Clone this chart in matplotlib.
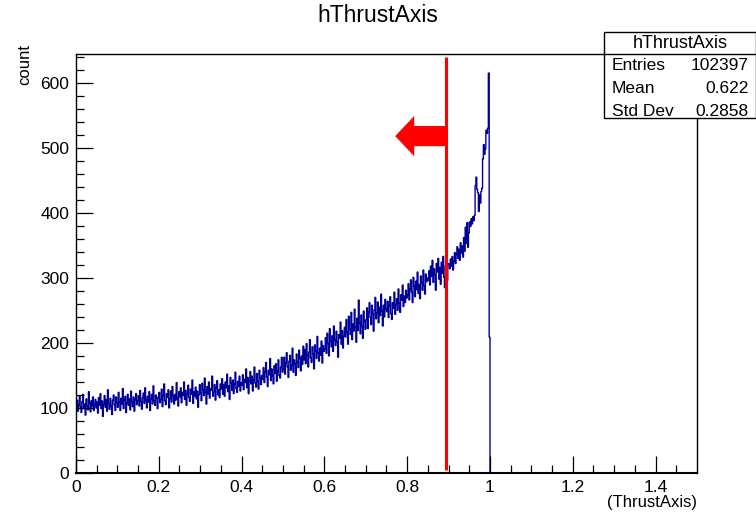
import numpy as np
import matplotlib.pyplot as plt
from matplotlib.patches import Rectangle
from matplotlib.lines import Line2D

plt.rcParams['font.family'] = ['Liberation Sans', 'DejaVu Sans']

# histogram binning: 750 bins over [0, 1.5], only [0, 1) is filled
n_bins = 750
x_lo, x_hi = 0.0, 1.5

# bin contents for [0, 1), 25 bins per row (0.05 wide each row)
counts_filled = [
    98, 112, 95, 104, 118, 101, 93, 110, 121, 99, 106, 89, 114, 103, 97, 125, 108, 94, 111, 102, 117, 96, 105, 113, 100,
    109, 92, 116, 104, 122, 99, 111, 87, 106, 119, 101, 113, 95, 128, 107, 98, 115, 103, 90, 112, 120, 105, 96, 117, 108,
    101, 124, 109, 96, 115, 106, 130, 99, 112, 118, 93, 108, 121, 104, 114, 97, 126, 110, 102, 117, 95, 113, 122, 105, 111,
    119, 103, 127, 110, 98, 116, 123, 107, 131, 112, 100, 118, 109, 125, 96, 114, 121, 106, 134, 111, 104, 120, 115, 99, 117,
    124, 108, 113, 129, 102, 119, 137, 111, 105, 122, 116, 128, 100, 114, 126, 109, 133, 118, 106, 121, 112, 139, 115, 103, 125,
    117, 131, 108, 124, 119, 140, 113, 127, 104, 122, 135, 116, 110, 129, 121, 143, 107, 125, 118, 132, 114, 126, 101, 120, 136,
    123, 111, 138, 128, 119, 146, 125, 106, 133, 121, 140, 115, 130, 127, 149, 118, 124, 136, 112, 131, 142, 120, 128, 116, 137,
    129, 145, 121, 136, 118, 140, 131, 152, 125, 134, 113, 147, 138, 127, 143, 122, 137, 155, 130, 124, 141, 133, 149, 126, 139,
    135, 151, 128, 144, 139, 160, 131, 147, 122, 142, 156, 137, 149, 126, 143, 163, 138, 132, 153, 141, 129, 158, 146, 136, 150,
    144, 162, 139, 155, 170, 147, 133, 158, 151, 176, 142, 160, 149, 137, 165, 153, 168, 141, 157, 174, 150, 146, 163, 178, 155,
    160, 178, 152, 169, 185, 163, 147, 172, 181, 158, 166, 192, 155, 174, 168, 150, 183, 171, 162, 189, 176, 157, 180, 167, 195,
    174, 190, 168, 199, 181, 163, 186, 205, 177, 170, 194, 183, 160, 197, 188, 176, 210, 185, 172, 192, 181, 203, 169, 196, 187,
    191, 208, 184, 215, 199, 180, 222, 203, 194, 211, 187, 226, 205, 196, 218, 201, 178, 213, 207, 232, 198, 219, 192, 210, 224,
    209, 236, 216, 198, 241, 222, 213, 247, 205, 229, 218, 252, 224, 201, 238, 219, 266, 231, 214, 243, 226, 207, 249, 233, 221,
    236, 254, 222, 247, 262, 239, 228, 258, 244, 218, 251, 270, 237, 246, 263, 231, 255, 242, 275, 249, 226, 258, 240, 267, 252,
    248, 264, 239, 257, 271, 245, 236, 262, 253, 278, 244, 259, 268, 250, 283, 261, 247, 274, 266, 289, 256, 272, 262, 281, 269,
    274, 291, 266, 283, 297, 278, 262, 301, 287, 271, 295, 282, 309, 276, 290, 268, 303, 293, 281, 312, 288, 275, 306, 294, 300,
    296, 311, 289, 318, 302, 327, 293, 314, 305, 281, 322, 309, 330, 298, 316, 290, 324, 307, 333, 301, 285, 319, 312, 296, 322,
    321, 314, 329, 318, 333, 312, 326, 339, 322, 336, 348, 330, 344, 327, 354, 338, 349, 332, 362, 341, 378, 353, 385, 347, 369,
    386, 379, 391, 383, 394, 388, 396, 442, 455, 436, 431, 402, 428, 415, 433, 438, 483, 505, 490, 498, 527, 522, 530, 615, 209,
]

stats_name = "hThrustAxis"
stats_rows = [("Entries", "102397"), ("Mean", "0.622"), ("Std Dev", "0.2858")]

cut_value = 0.893   # selection cut on the thrust axis
cut_top = 640

counts = np.zeros(n_bins)
counts[:len(counts_filled)] = counts_filled
edges = np.linspace(x_lo, x_hi, n_bins + 1)

W, H = 756, 512
fig = plt.figure(figsize=(W / 100, H / 100), dpi=100)

# frame in pixels: left 76, right 697, top 53.5, bottom 473
ax = fig.add_axes([76 / W, 1 - 473 / H, (697 - 76) / W, (473 - 53.5) / H])
ax.stairs(counts, edges, color='#000099', lw=1.0, baseline=None, zorder=1)

ax.set_xlim(x_lo, x_hi)
ax.set_ylim(0, 645)
ax.set_xticks(np.arange(0, 1.41, 0.2))
ax.set_xticklabels(['0', '0.2', '0.4', '0.6', '0.8', '1', '1.2', '1.4'])
ax.set_xticks(np.arange(0, 1.5, 0.05), minor=True)
ax.set_yticks(np.arange(0, 601, 100))
ax.set_yticks(np.arange(0, 645, 20), minor=True)
ax.tick_params(which='both', direction='in', top=False, right=False,
               labelsize=12.5, width=0.9, colors='black')
ax.tick_params(which='major', length=12, pad=5)
ax.tick_params(which='minor', length=6)
for s in ax.spines.values():
    s.set_linewidth(1.0)
    s.set_zorder(3)
# empty bins run along the bottom axis; keep that edge black
ax.spines['bottom'].set_linewidth(1.5)

# cut line with an arrow pointing to the kept region
ax.plot([cut_value, cut_value], [5, cut_top], color='red', lw=2.2, solid_capstyle='butt')
ax.arrow(cut_value, 518, -0.122, 0, width=31, head_width=62, head_length=0.046,
         length_includes_head=True, color='red', lw=0)

fig.text(0.5, 1 - 15 / H, "hThrustAxis", ha='center', va='center', fontsize=16.5)
fig.text(25 / W, 1 - 44 / H, "count", rotation=90, ha='center', va='top', fontsize=12)
fig.text(697 / W, 1 - 502 / H, "(ThrustAxis)", ha='right', va='center', fontsize=12)

# stats box
bx0, bx1, by0, by1 = 604, 756, 31.5, 118
fig.patches.append(Rectangle((bx0 / W, 1 - by1 / H), (bx1 - bx0) / W, (by1 - by0) / H,
                             transform=fig.transFigure, facecolor='white',
                             edgecolor='black', lw=1.0, zorder=5))
fig.lines.append(Line2D([bx0 / W, bx1 / W], [1 - 53.5 / H, 1 - 53.5 / H],
                        transform=fig.transFigure, color='black', lw=1.0, zorder=6))
fig.text((bx0 + bx1) / 2 / W, 1 - 43 / H, stats_name, ha='center', va='center',
         fontsize=13, zorder=7)
for i, (name, val) in enumerate(stats_rows):
    yy = 1 - (66 + 22.5 * i) / H
    fig.text(612 / W, yy, name, ha='left', va='center', fontsize=12.5, zorder=7)
    fig.text(749 / W, yy, val, ha='right', va='center', fontsize=12.5, zorder=7)

fig.savefig('out.png', dpi=100)
